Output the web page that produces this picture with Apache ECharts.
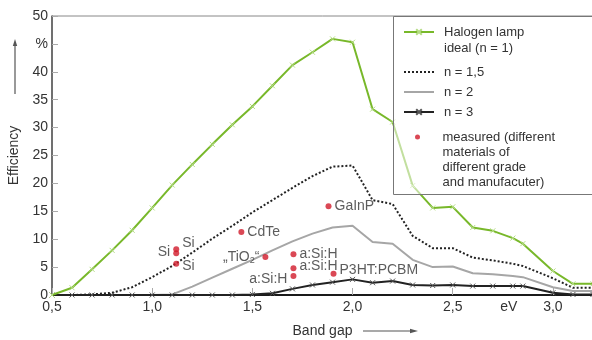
<!DOCTYPE html>
<html>
<head>
<meta charset="utf-8">
<script src="https://cdn.jsdelivr.net/npm/echarts@6/dist/echarts.min.js"></script>
<style>
  html, body { margin: 0; padding: 0; background: #fff; }
  #chart { width: 592px; height: 340px; }
</style>
</head>
<body>
<div id="chart"></div>
<script>
// band gap (eV) shared by the model curves
const bandGap = [0.5, 0.6, 0.7, 0.8, 0.9, 1.0, 1.1, 1.2, 1.3, 1.4, 1.5, 1.6, 1.7, 1.8, 1.9,
  2.0, 2.1, 2.2, 2.3, 2.4, 2.5, 2.6, 2.7, 2.8, 2.85, 3.0, 3.1, 3.2]

// efficiency (%) per curve
const halogenIdeal = [0, 1.3, 4.6, 8.0, 11.6, 15.6, 19.7, 23.4, 27.0, 30.5, 33.8, 37.5, 41.2, 43.5, 45.9,
  45.3, 33.3, 31.0, 19.6, 15.6, 15.8, 12.1, 11.5, 10.2, 9.2, 4.3, 2.0, 2.0]
const n15 = [0, 0, 0.1, 0.4, 1.4, 3.2, 5.2, 7.6, 10.1, 12.4, 14.8, 17.0, 19.2, 21.3, 23.0,
  23.2, 17.0, 16.3, 10.6, 8.4, 8.4, 6.7, 6.2, 5.6, 5.2, 3.0, 1.3, 1.3]
const n2 = [0, 0, 0, 0, 0, 0, 0.1, 1.5, 3.1, 4.7, 6.3, 8.0, 9.6, 11.0, 12.1,
  12.4, 9.5, 9.2, 6.3, 5.0, 5.1, 3.9, 3.7, 3.4, 3.2, 1.4, 0.7, 0.7]
const n3 = [0, 0, 0, 0, 0, 0, 0, 0, 0, 0, 0.1, 0.3, 1.1, 1.8, 2.3,
  2.8, 2.2, 2.5, 1.8, 1.7, 1.8, 1.6, 1.6, 1.6, 1.6, 0.4, 0.1, 0.1]

// measured cells
const measuredName = ['Si', 'Si', 'Si', 'CdTe', '„TiO₂“', 'a:Si:H', 'a:Si:H', 'a:Si:H', 'GaInP', 'P3HT:PCBM']
const measuredGap = [1.12, 1.12, 1.12, 1.445, 1.565, 1.705, 1.705, 1.705, 1.88, 1.905]
const measuredEff = [8.2, 7.5, 5.6, 11.3, 6.8, 7.3, 4.8, 3.4, 15.9, 3.8]

// axis labels
const xLabelValues = [0.5, 1.0, 1.5, 2.0, 2.5, 2.78, 3.0]
const xTickValues = [0.5, 1.0, 1.5, 2.0, 2.5, 3.0]

const names = {
  halogen: 'Halogen lamp\nideal (n = 1)',
  n15: 'n = 1,5',
  n2: 'n = 2',
  n3: 'n = 3',
  measured: 'measured (different\nmaterials of\ndifferent grade\nand manufacuter)',
}

// label placement for the measured points (style only)
const labelSide = ['right', 'left', 'right', 'right', 'left', 'right', 'right', 'left', 'right', 'right']
const labelShift = [[0, -6], [0, -1], [0, 2], [0, 0], [0, 0], [0, 0], [0, -2], [0, 3], [0, 0], [0, -4]]

const font = 'Liberation Sans, Arial, Helvetica, sans-serif'
const cross = 'path://M0,0L10,10M10,0L0,10'

const pairs = (ys) => bandGap.map((x, i) => [x, ys[i]])

const measuredData = measuredName.map((name, i) => ({
  value: [measuredGap[i], measuredEff[i]],
  name,
  label: {
    position: labelSide[i],
    offset: labelShift[i],
    formatter: name === '„TiO₂“' ? '{t|„TiO}{s|2}{t|“}' : '{b}',
  },
}))

const chart = echarts.init(document.getElementById('chart'))

const legendText = {
  fontFamily: font,
  fontSize: 13,
  color: '#333',
  padding: [0, 0, 0, 5],
}
const noSymbol = { opacity: 0 }

const option = {
  animation: false,
  textStyle: { fontFamily: font },
  grid: {
    left: 52, right: -1, top: 16, bottom: 45,
    show: true, borderColor: '#888', borderWidth: 1,
    outerBoundsMode: 'none',
  },
  xAxis: {
    type: 'value',
    min: 0.5,
    max: 3.2,
    interval: 0.5,
    name: 'Band gap',
    nameLocation: 'middle',
    nameGap: 29,
    nameTextStyle: { fontSize: 14, color: '#333', fontFamily: font },
    axisLine: { show: true, onZero: false, lineStyle: { color: '#1a1a1a', width: 2 } },
    axisTick: { show: true, inside: true, length: 7, customValues: xTickValues, lineStyle: { color: '#aaa' } },
    axisLabel: {
      customValues: xLabelValues,
      fontSize: 14,
      color: '#333',
      margin: 5,
      formatter: (v) => (Math.abs(v - 2.78) < 0.01 ? 'eV' : v.toFixed(1).replace('.', ',')),
    },
    splitLine: { show: false },
  },
  yAxis: {
    type: 'value',
    min: 0,
    max: 50,
    interval: 5,
    name: 'Efficiency',
    nameLocation: 'middle',
    nameGap: 27,
    nameTextStyle: { fontSize: 14, color: '#333', fontFamily: font },
    axisLine: { show: true, lineStyle: { color: '#555', width: 1.5 } },
    axisTick: { show: true, inside: true, length: 6, lineStyle: { color: '#aaa' } },
    axisLabel: {
      fontSize: 14,
      color: '#333',
      margin: 4,
      formatter: (v) => (v === 45 ? '%' : String(v)),
    },
    splitLine: { show: false },
  },
  legend: [
    {
      data: [names.halogen],
      orient: 'vertical', left: 403, top: 8, padding: 0, z: 8,
      itemWidth: 30, itemHeight: 7,
      selectedMode: false,
      formatter: (n) => '\n' + n,
      textStyle: Object.assign({ lineHeight: 16 }, legendText),
    },
    {
      data: [
        { name: names.n15, itemStyle: noSymbol },
        { name: names.n2, itemStyle: noSymbol },
        { name: names.n3 },
      ],
      orient: 'vertical', left: 403, top: 64, padding: 0, itemGap: 4, z: 8,
      itemWidth: 30, itemHeight: 7,
      selectedMode: false,
      textStyle: Object.assign({ lineHeight: 16 }, legendText),
    },
    {
      data: [names.measured],
      orient: 'vertical', left: 415, top: 84.5, padding: 0, z: 8,
      itemWidth: 30, itemHeight: 5,
      selectedMode: false,
      formatter: (n) => '\n\n\n' + n,
      textStyle: Object.assign({ lineHeight: 15 }, legendText),
    },
  ],
  graphic: [
    {
      type: 'rect',
      z: 6,
      shape: { x: 393.5, y: 16.5, width: 200, height: 178 },
      style: { fill: 'rgba(255,255,255,0.55)', stroke: '#777', lineWidth: 1 },
    },
    {
      type: 'group',
      children: [
        { type: 'line', shape: { x1: 15, y1: 94, x2: 15, y2: 45 }, style: { stroke: '#555', lineWidth: 1.2 } },
        { type: 'polygon', shape: { points: [[15, 39], [12.8, 46], [17.2, 46]] }, style: { fill: '#555' } },
        { type: 'line', shape: { x1: 363, y1: 331, x2: 411, y2: 331 }, style: { stroke: '#555', lineWidth: 1.2 } },
        { type: 'polygon', shape: { points: [[418, 331], [410, 328.8], [410, 333.2]] }, style: { fill: '#555' } },
      ],
    },
  ],
  series: [
    {
      name: names.n2,
      type: 'line',
      data: pairs(n2),
      showSymbol: false,
      symbol: 'none',
      lineStyle: { color: '#a6a6a6', width: 2 },
      itemStyle: { color: '#a6a6a6' },
    },
    {
      name: names.n15,
      type: 'line',
      data: pairs(n15),
      symbol: 'none',
      lineStyle: { color: '#222', width: 2, type: 'dotted' },
      itemStyle: { color: '#222' },
    },
    {
      name: names.n3,
      type: 'line',
      data: pairs(n3),
      symbol: cross,
      symbolSize: 5,
      lineStyle: { color: '#222', width: 2 },
      itemStyle: { color: '#222', borderColor: '#555', borderWidth: 1 },
    },
    {
      name: names.halogen,
      type: 'line',
      data: pairs(halogenIdeal),
      symbol: cross,
      symbolSize: 5,
      lineStyle: { color: '#78b82a', width: 2 },
      itemStyle: { color: '#78b82a', borderColor: '#b4dc84', borderWidth: 1 },
    },
    {
      name: names.measured,
      type: 'scatter',
      data: measuredData,
      symbolSize: 6,
      itemStyle: { color: '#d11a2a' },
      label: {
        show: true,
        distance: 3,
        fontSize: 14,
        color: '#333',
        fontFamily: font,
        rich: {
          t: { fontSize: 14, color: '#333', fontFamily: font, lineHeight: 16 },
          s: { fontSize: 9, color: '#333', fontFamily: font, verticalAlign: 'bottom', lineHeight: 10 },
        },
      },
      z: 5,
    },
  ],
}

chart.setOption(option)
</script>
</body>
</html>
